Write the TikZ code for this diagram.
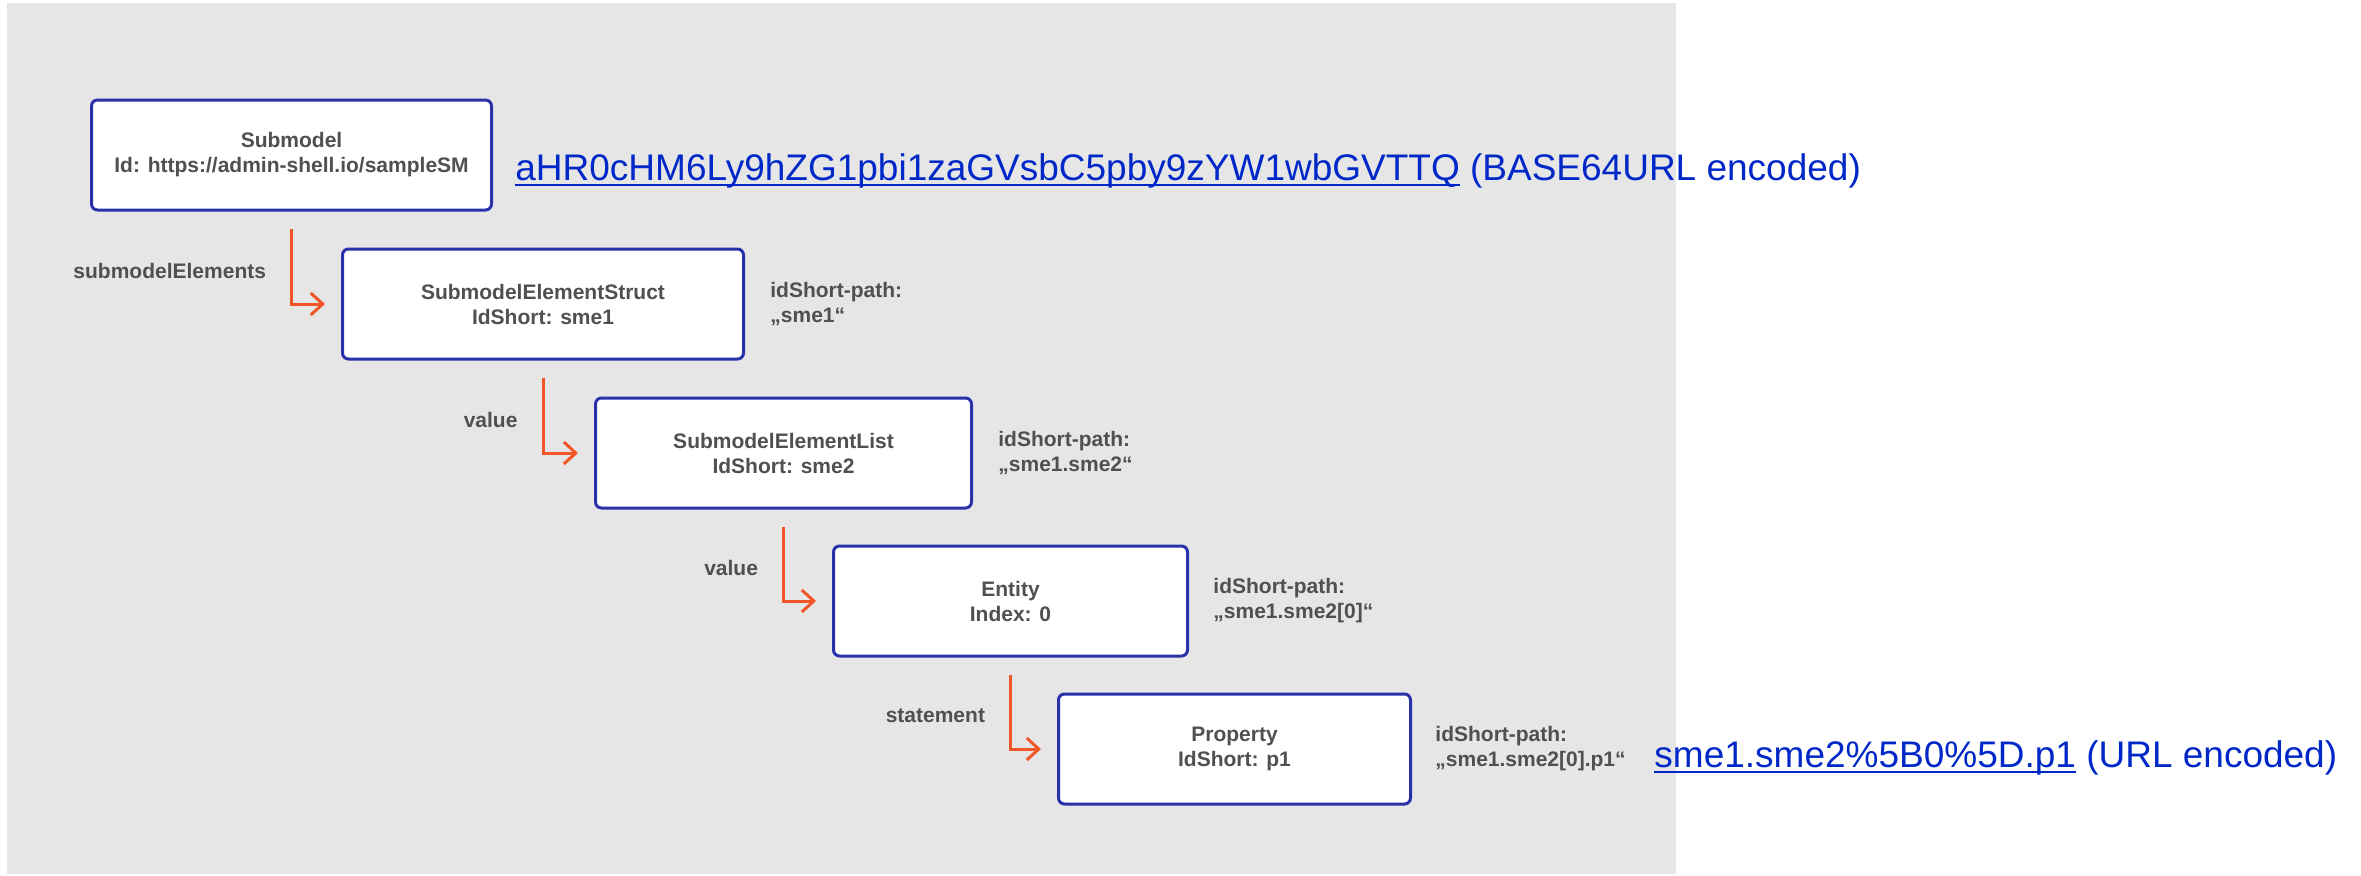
\documentclass[tikz,border=0pt]{standalone}
\usepackage{fontspec}
\setmainfont{Liberation Sans}
\usetikzlibrary{arrows.meta, positioning}
\definecolor{bggray}{RGB}{230,230,230}
\definecolor{boxblue}{RGB}{42,50,170}
\definecolor{flowred}{RGB}{240,86,40}
\definecolor{textgray}{RGB}{80,80,80}
\definecolor{linkblue}{RGB}{0,40,200}
\newcommand{\nodefont}{\bfseries\fontsize{10.5}{12.5}\selectfont}
\newcommand{\linktext}[1]{\setbox0\hbox{#1}\rlap{\rule[-3pt]{\wd0}{1pt}}\box0\relax}
\tikzstyle{element}=[draw=boxblue, line width=1.5pt, rounded corners=3pt, fill=white, minimum height=55pt, inner sep=0pt, align=center, text=textgray, font=\nodefont]
\tikzstyle{flow}=[draw=flowred, line width=1.5pt, -{Straight Barb[length=6pt, width=11pt]}]
\tikzstyle{role}=[text=textgray, inner sep=0pt, font=\nodefont]
\tikzstyle{idpath}=[text=textgray, inner sep=0pt, align=left, font=\bfseries\fontsize{10.5}{12.5}\selectfont]
\tikzstyle{weblink}=[text=linkblue, inner sep=0pt, anchor=base west, font=\fontsize{18.5}{22}\selectfont]

\begin{document}
\begin{tikzpicture}[x=0.5pt, y=-0.5pt]
  \useasboundingbox (0,0) rectangle (2361,875);
  \fill[bggray] (7,3) rectangle (1676,874);
  % element chain
  \node[element, minimum width=200pt] (sm) at (291.5,155) {Submodel\\Id: https://admin-shell.io/sampleSM};
  \node[element, minimum width=200.5pt] (sme1) [below right=18pt and 125.5pt of sm.south west] {SubmodelElementStruct\\IdShort: sme1};
  \node[element, minimum width=188pt] (sme2) [below right=18pt and 126.5pt of sme1.south west] {SubmodelElementList\\IdShort: sme2};
  \node[element, minimum width=177pt] (ent) [below right=17.5pt and 119pt of sme2.south west] {Entity\\Index: 0};
  \node[element, minimum width=176pt] (p1) [below right=17.5pt and 112.5pt of ent.south west] {Property\\IdShort: p1};
  % containment
  \draw[flow] ([yshift=-8.5pt]sm.south) |- node[role, pos=0.28, left=12pt] {submodelElements} ([xshift=-8pt]sme1.west);
  \draw[flow] ([yshift=-8.5pt]sme1.south) |- node[role, pos=0.28, left=12pt] {value} ([xshift=-8pt]sme2.west);
  \draw[flow] ([yshift=-8.5pt]sme2.south) |- node[role, pos=0.28, left=12pt] {value} ([xshift=-8pt]ent.west);
  \draw[flow] ([yshift=-8.5pt]ent.south) |- node[role, pos=0.28, left=12pt] {statement} ([xshift=-8pt]p1.west);
  % idShort paths
  \node[idpath] (sme1path) [right=12.5pt of sme1] {idShort-path:\\„sme1“};
  \node[idpath] (sme2path) [right=12.5pt of sme2] {idShort-path:\\„sme1.sme2“};
  \node[idpath] (entpath) [right=12pt of ent] {idShort-path:\\„sme1.sme2[0]“};
  \node[idpath] (p1path) [right=11.5pt of p1] {idShort-path:\\„sme1.sme2[0].p1“};
  % encoded identifiers
  \node[weblink] (smid) at ([xshift=11pt, yshift=-12.5pt]sm.east) {\linktext{aHR0cHM6Ly9hZG1pbi1zaGVsbC5pby9zYW1wbGVTTQ} (BASE64URL encoded)};
  \node[weblink] (p1id) at ([xshift=14pt, yshift=-9pt]p1path.east) {\linktext{sme1.sme2\%5B0\%5D.p1} (URL encoded)};
\end{tikzpicture}
\end{document}
